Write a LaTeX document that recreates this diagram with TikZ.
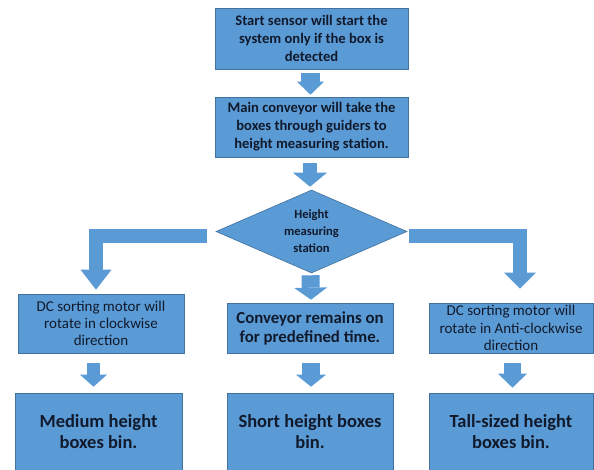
\documentclass[tikz,border=0pt]{standalone}
\usepackage{fontspec}
\setmainfont{Carlito}
\usetikzlibrary{shapes.geometric,arrows.meta}
\definecolor{boxblue}{HTML}{5B9BD5}
\definecolor{boxline}{HTML}{41719C}
\definecolor{txt}{HTML}{111A2C}
\tikzset{
  box/.style={rectangle, fill=boxblue, draw=boxline, line width=0.6pt, align=center, text=txt, inner sep=2pt},
  barrow/.style n args={3}{draw=boxblue, line width=#1pt, line join=miter,
     -{Triangle[line width=0pt, width=#2pt, length=#3pt]}},
}
\begin{document}
\begin{tikzpicture}[x=1pt,y=-1pt]
\useasboundingbox (0,0) rectangle (594,470);
\fill[white] (0,0) rectangle (594,470);
% nodes
\node[box, minimum width=193pt, minimum height=61pt, font=\bfseries\fontsize{14.6}{18}\selectfont]
  (b1) at (311.5,38.5) {Start sensor will start the\\system only if the box is\\detected};
\node[box, minimum width=193pt, minimum height=60pt, font=\bfseries\fontsize{14.6}{18}\selectfont]
  (b2) at (311.5,127) {Main conveyor will take the\\boxes through guiders to\\height measuring station.};
\node[diamond, fill=boxblue, draw=boxline, line width=0.6pt, minimum width=191pt, minimum height=83pt,
  inner sep=0pt, aspect=2.3, align=center, text=txt, font=\bfseries\fontsize{12.6}{17}\selectfont]
  (dia) at (311.5,231.5) {Height\\measuring\\station};
\node[box, minimum width=166pt, minimum height=59pt, font=\fontsize{15}{17.3}\selectfont]
  (b3) at (101,323.5) {DC sorting motor will\\rotate in clockwise\\direction};
\node[box, minimum width=166pt, minimum height=50pt, font=\bfseries\fontsize{16.8}{19}\selectfont]
  (b4) at (310,328) {Conveyor remains on\\for predefined time.};
\node[box, minimum width=164pt, minimum height=50pt, font=\fontsize{15}{17.3}\selectfont]
  (b5) at (511,328) {DC sorting motor will\\rotate in Anti-clockwise\\direction};
\node[box, minimum width=167pt, minimum height=77pt, font=\bfseries\fontsize{18.5}{21}\selectfont]
  (c1) at (98.5,431.5) {Medium height\\boxes bin.};
\node[box, minimum width=166pt, minimum height=77pt, font=\bfseries\fontsize{18.5}{21}\selectfont]
  (c2) at (310,431.5) {Short height boxes\\bin.};
\node[box, minimum width=164pt, minimum height=77pt, font=\bfseries\fontsize{18.5}{21}\selectfont]
  (c3) at (511,431.5) {Tall-sized height\\boxes bin.};
% arrows
\draw[barrow={19}{27}{13}] ([xshift=-1pt,yshift=-4pt]b1.south) -- ([xshift=-1pt,yshift=2pt]b2.north);
\draw[barrow={14}{34}{14}] ([xshift=-1.5pt,yshift=-6pt]b2.south) -- ([xshift=-1.5pt,yshift=3pt]dia.north);
\draw[barrow={18}{33}{12}] ([xshift=-1pt,yshift=-2pt]dia.south) -- ([xshift=1pt,yshift=3pt]b4.north);
\draw[barrow={14}{31}{20}] ([xshift=-9pt,yshift=-4.5pt]dia.west) -| ([xshift=-5pt,yshift=4pt]b3.north);
\draw[barrow={14}{32}{16}] ([xshift=2pt,yshift=-5pt]dia.east) -| ([xshift=9pt,yshift=14pt]b5.north);
\draw[barrow={13}{27}{12}] ([xshift=-7.5pt,yshift=-10pt]b3.south) -- ([xshift=-5pt,yshift=6pt]c1.north);
\draw[barrow={18}{30}{12}] ([xshift=1pt,yshift=-10pt]b4.south) -- ([xshift=1pt,yshift=6pt]c2.north);
\draw[barrow={17}{29}{14}] ([xshift=1.5pt,yshift=-10pt]b5.south) -- ([xshift=1.5pt,yshift=5pt]c3.north);
\end{tikzpicture}
\end{document}
